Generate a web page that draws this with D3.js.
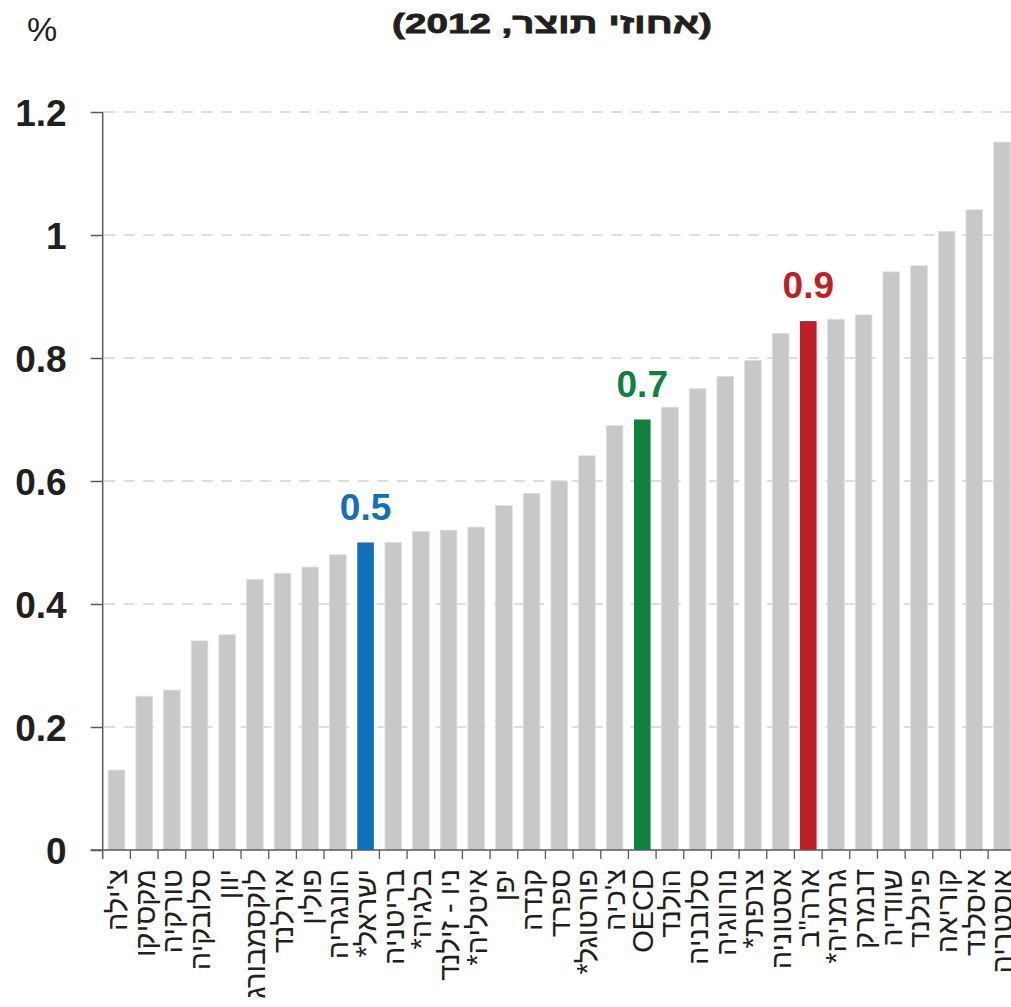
<!DOCTYPE html>
<html>
<head>
<meta charset="utf-8">
<script src="https://cdn.jsdelivr.net/npm/d3@7"></script>
<style>
  html, body { margin: 0; padding: 0; background: #fff; }
  svg { display: block; }
</style>
</head>
<body>
<svg id="chart" width="1011" height="1007"></svg>
<script>
// ---- data ----
const categories = ["צ'ילה","מקסיקו","טורקיה","סלובקיה","יוון","לוקסמבורג","אירלנד","פולין","הונגריה","ישראל*","בריטניה","בלגיה*","ניו - זילנד","איטליה*","יפן","קנדה","ספרד","פורטוגל*","צ'כיה","OECD","הולנד","סלובניה","נורווגיה","צרפת*","אסטוניה","ארה\"ב","גרמניה*","דנמרק","שוודיה","פינלנד","קוריאה","איסלנד","אוסטריה"];
const values = [0.13,0.25,0.26,0.34,0.35,0.44,0.45,0.46,0.48,0.50,0.50,0.518,0.52,0.525,0.56,0.58,0.60,0.641,0.69,0.70,0.72,0.75,0.77,0.796,0.84,0.86,0.863,0.87,0.94,0.95,1.006,1.041,1.151];
const highlightNames = ["ישראל*","OECD","ארה\"ב"];
const highlightColors = ["#1170bb","#10813f","#c01f26"];
const highlightLabels = ["0.5","0.7","0.9"];
const yTicks = [0,0.2,0.4,0.6,0.8,1,1.2];
const yTickLabels = ["0","0.2","0.4","0.6","0.8","1","1.2"];
const titleText = "(אחוזי תוצר, 2012)";
const unitText = "%";

// ---- layout ----
const svg = d3.select("#chart");
const axisX = 102.7, baseY = 850, topY = 112;
const step = 27.67;
const x = d3.scaleBand().domain(categories)
  .range([axisX, axisX + step * categories.length])
  .paddingInner(0.4).paddingOuter(0.2);
const y = d3.scaleLinear().domain([0, 1.2]).range([baseY, topY]);
const axisColor = "#5a5a5a";

// gridlines
svg.append("g").selectAll("line").data(yTicks.filter(d => d > 0)).join("line")
  .attr("x1", axisX + 1.5).attr("x2", 1011)
  .attr("y1", d => y(d)).attr("y2", d => y(d))
  .attr("stroke", "#dedede").attr("stroke-width", 2.2)
  .attr("stroke-dasharray", "11,8.5");

// bars
const data = categories.map((c, i) => ({c, v: values[i], h: highlightNames.indexOf(c)}));
svg.append("g").selectAll("rect").data(data).join("rect")
  .attr("x", d => x(d.c)).attr("width", x.bandwidth())
  .attr("y", d => y(d.v)).attr("height", d => baseY - y(d.v))
  .attr("fill", d => d.h >= 0 ? highlightColors[d.h] : "#c7c8ca")
  .attr("stroke", d => d.h >= 0 ? "none" : "#dcdddf")
  .attr("stroke-width", 0.8);

// highlight value labels
svg.append("g").selectAll("text").data(data.filter(d => d.h >= 0)).join("text")
  .attr("x", d => x(d.c) + x.bandwidth() / 2)
  .attr("y", d => y(d.v) - 23)
  .attr("text-anchor", "middle")
  .attr("font-family", "Liberation Sans, Arial, sans-serif")
  .attr("font-weight", "bold").attr("font-size", 37)
  .attr("fill", d => highlightColors[d.h])
  .text(d => highlightLabels[d.h]);

// y axis
const yAxis = d3.axisLeft(y).tickValues(yTicks)
  .tickFormat((d, i) => yTickLabels[i]).tickSize(12).tickSizeOuter(0).tickPadding(24);
const gy = svg.append("g").attr("transform", `translate(${axisX},0)`).call(yAxis);
gy.select(".domain").remove();
gy.selectAll(".tick line").attr("stroke", axisColor).attr("stroke-width", 1.5);
gy.selectAll(".tick text")
  .attr("font-family", "Liberation Sans, Arial, sans-serif")
  .attr("font-weight", "bold").attr("font-size", 37).attr("fill", "#231f20")
  .attr("dy", "0.36em");
svg.append("line").attr("x1", axisX).attr("x2", axisX)
  .attr("y1", topY).attr("y2", baseY + 9)
  .attr("stroke", axisColor).attr("stroke-width", 1.5);

// x axis line and boundary ticks
svg.append("line").attr("x1", axisX - 12).attr("x2", 1011)
  .attr("y1", baseY).attr("y2", baseY)
  .attr("stroke", axisColor).attr("stroke-width", 1.5);
svg.append("g").selectAll("line").data(categories.slice(1)).join("line")
  .attr("x1", d => x(d) - x.step() * 0.2).attr("x2", d => x(d) - x.step() * 0.2)
  .attr("y1", baseY).attr("y2", baseY + 9)
  .attr("stroke", axisColor).attr("stroke-width", 1.3);

// x labels (rotated)
svg.append("g").selectAll("text").data(categories).join("text")
  .attr("transform", d => `translate(${x(d) + x.bandwidth() / 2},869) rotate(-90)`)
  .attr("direction", "rtl")
  .attr("text-anchor", "start")
  .attr("dy", "0.36em")
  .attr("font-family", "Liberation Sans, Arial, sans-serif")
  .attr("font-size", 29).attr("fill", "#231f20")
  .text(d => d);

// title & unit
svg.append("text")
  .attr("transform", "translate(552,33) scale(1.38,1)")
  .attr("text-anchor", "middle")
  .attr("font-family", "Liberation Sans, Arial, sans-serif")
  .attr("font-weight", "bold").attr("font-size", 28).attr("fill", "#231f20")
  .attr("stroke", "#231f20").attr("stroke-width", 0.8)
  .text(titleText);
svg.append("text").attr("x", 42).attr("y", 41)
  .attr("text-anchor", "middle")
  .attr("font-family", "Liberation Sans Narrow, Liberation Sans, Arial, sans-serif")
  .attr("font-size", 34).attr("fill", "#231f20")
  .text(unitText);
</script>
</body>
</html>
